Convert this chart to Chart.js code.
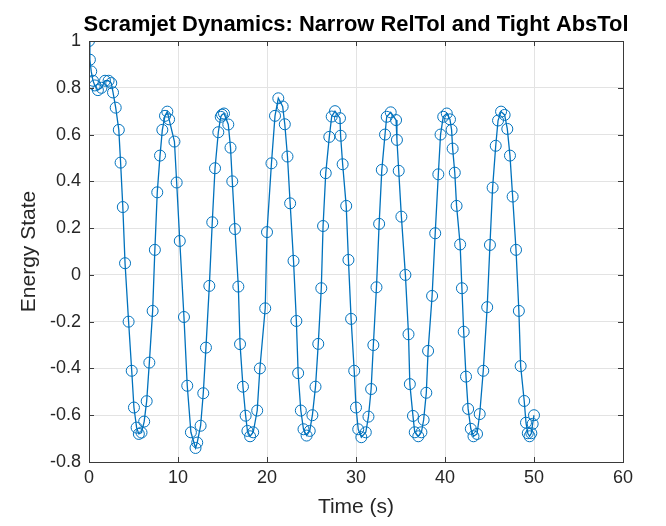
<!DOCTYPE html>
<html>
<head>
<meta charset="utf-8">
<script src="https://cdn.jsdelivr.net/npm/chart.js@4.4.1/dist/chart.umd.min.js"></script>
<style>
html,body{margin:0;padding:0;background:#fff;}
#wrap{width:666px;height:526px;position:relative;}
</style>
</head>
<body>
<div id="wrap"><canvas id="c" width="666" height="526"></canvas></div>
<script>
const chartTitle = "Scramjet Dynamics: Narrow RelTol and Tight AbsTol";
const xLabel = "Time (s)";
const yLabel = "Energy State";
const xTicks = [0, 10, 20, 30, 40, 50, 60];
const yTicks = [-0.8, -0.6, -0.4, -0.2, 0, 0.2, 0.4, 0.6, 0.8, 1];

const timeValues = [
  0, 0.1, 0.25, 0.45, 0.65, 1.0, 1.4, 1.8, 2.2, 2.5, 2.7, 3.0, 3.35, 3.55, 3.8,
  4.05, 4.45, 4.8, 5.05, 5.35, 5.6, 5.9, 6.2, 6.48, 6.78, 7.15, 7.4, 7.67, 7.98,
  8.24, 8.54, 8.8, 9.0, 9.6, 9.85, 10.2, 10.67, 11.04, 11.45, 11.97, 12.16, 12.54,
  12.84, 13.14, 13.52, 13.85, 14.16, 14.53, 14.8, 14.95, 15.17, 15.65, 15.9, 16.1,
  16.4, 16.78, 16.97, 17.3, 17.6, 17.8, 18.1, 18.45, 18.9, 19.2, 19.8, 20.0, 20.5,
  20.9, 21.27, 21.76, 22.0, 22.3, 22.6, 22.98, 23.3, 23.5, 23.8, 24.1, 24.45, 24.8,
  25.1, 25.45, 25.76, 26.1, 26.3, 26.6, 27.0, 27.27, 27.64, 28.2, 28.27, 28.5, 28.9,
  29.15, 29.45, 29.8, 30.0, 30.25, 30.6, 31.1, 31.4, 31.7, 31.95, 32.3, 32.6, 32.9,
  33.26, 33.45, 33.9, 34.5, 34.6, 34.8, 35.1, 35.55, 35.9, 36.05, 36.4, 36.6, 37.0,
  37.35, 37.6, 37.9, 38.1, 38.55, 38.9, 39.25, 39.5, 39.8, 40.2, 40.56, 40.74, 40.86,
  41.1, 41.3, 41.7, 41.9, 42.1, 42.36, 42.6, 42.9, 43.2, 43.6, 43.9, 44.3, 44.74,
  45.05, 45.35, 45.7, 45.96, 46.3, 46.7, 47.0, 47.3, 47.6, 47.98, 48.3, 48.5, 48.9,
  49.1, 49.3, 49.5, 49.7, 49.85, 50.0
];
const energyValues = [
  1.0, 0.92, 0.87, 0.83, 0.81, 0.79, 0.80, 0.83, 0.83, 0.82, 0.78, 0.715, 0.62, 0.48, 0.29,
  0.05, -0.20, -0.41, -0.567, -0.653, -0.68, -0.674, -0.627, -0.54, -0.375, -0.154, 0.107, 0.353, 0.51,
  0.62, 0.68, 0.698, 0.665, 0.57, 0.395, 0.145, -0.18, -0.474, -0.673, -0.74, -0.717, -0.645,
  -0.506, -0.311, -0.047, 0.225, 0.456, 0.61, 0.676, 0.685, 0.69, 0.643, 0.544, 0.40,
  0.196, -0.05, -0.296, -0.478, -0.602, -0.667, -0.69, -0.673, -0.58, -0.40, -0.143, 0.183, 0.477,
  0.68, 0.755, 0.72, 0.644, 0.506, 0.306, 0.06, -0.197, -0.42, -0.58, -0.66, -0.687, -0.667,
  -0.60, -0.478, -0.295, -0.057, 0.209, 0.435, 0.59, 0.677, 0.70, 0.67, 0.595, 0.473, 0.295,
  0.064, -0.188, -0.41, -0.567, -0.66, -0.694, -0.673, -0.606, -0.488, -0.30, -0.053, 0.218, 0.449,
  0.60, 0.676, 0.695, 0.662, 0.577, 0.445, 0.249, 0.0, -0.254, -0.467, -0.603, -0.673, -0.69,
  -0.673, -0.62, -0.504, -0.325, -0.09, 0.178, 0.43, 0.60, 0.676, 0.69, 0.665, 0.62, 0.54,
  0.437, 0.295, 0.13, -0.057, -0.243, -0.435, -0.573, -0.658, -0.69, -0.68, -0.595, -0.41, -0.138,
  0.128, 0.373, 0.552, 0.66, 0.698, 0.684, 0.624, 0.51, 0.335, 0.107, -0.154, -0.39, -0.539,
  -0.632, -0.677, -0.69, -0.677, -0.637, -0.60
];

const points = timeValues.map((t, i) => ({x: t, y: energyValues[i]}));

const AX = '#262626';
const FONT = "'Liberation Sans', Arial, Helvetica, sans-serif";

const matlabPlugin = {
  id: 'matlab',
  afterDraw(chart) {
    const {ctx, chartArea: a, scales} = chart;
    ctx.save();
    ctx.strokeStyle = '#3a3a3a';
    ctx.lineWidth = 1;
    ctx.strokeRect(Math.round(a.left) + 0.5, Math.round(a.top) + 0.5, Math.round(a.right - a.left), Math.round(a.bottom - a.top));
    ctx.beginPath();
    xTicks.forEach(v => {
      const x = Math.round(scales.x.getPixelForValue(v)) + 0.5;
      ctx.moveTo(x, a.bottom); ctx.lineTo(x, a.bottom - 5);
      ctx.moveTo(x, a.top); ctx.lineTo(x, a.top + 5);
    });
    yTicks.forEach(v => {
      const y = Math.round(scales.y.getPixelForValue(v)) + 0.5;
      ctx.moveTo(a.left, y); ctx.lineTo(a.left + 5, y);
      ctx.moveTo(a.right, y); ctx.lineTo(a.right - 5, y);
    });
    ctx.stroke();
    // title, sized to span the same width as the reference
    ctx.fillStyle = '#000';
    ctx.font = "bold 20px " + FONT;
    const w = ctx.measureText(chartTitle).width;
    const size = Math.min(24, 20 * 544 / w);
    ctx.font = "bold " + size.toFixed(1) + "px " + FONT;
    ctx.textAlign = 'center';
    ctx.textBaseline = 'alphabetic';
    ctx.fillText(chartTitle, (a.left + a.right) / 2, 31);
    ctx.restore();
  }
};

new Chart(document.getElementById('c'), {
  type: 'scatter',
  data: {
    datasets: [{
      data: points,
      showLine: true,
      borderColor: '#0072BD',
      borderWidth: 1.3,
      pointRadius: 5.5,
      pointHoverRadius: 5.5,
      pointBorderWidth: 1,
      pointBorderColor: '#0072BD',
      pointBackgroundColor: 'rgba(0,0,0,0)',
      tension: 0
    }]
  },
  options: {
    responsive: false,
    animation: false,
    devicePixelRatio: 1,
    layout: {padding: {top: 41, right: 43, left: 0, bottom: 0}},
    plugins: {legend: {display: false}, tooltip: {enabled: false}, title: {display: false}},
    scales: {
      x: {
        type: 'linear', min: 0, max: 60,
        afterBuildTicks: s => { s.ticks = xTicks.map(v => ({value: v})); },
        afterFit: s => { s.height = 64; },
        grid: {color: '#e3e3e3', drawTicks: false, lineWidth: 1},
        border: {display: false},
        ticks: {color: AX, font: {family: FONT, size: 18}, padding: 5, maxRotation: 0},
        title: {display: true, text: xLabel, color: AX, font: {family: FONT, size: 21}, padding: {top: 0, bottom: 6}}
      },
      y: {
        type: 'linear', min: -0.8, max: 1,
        afterBuildTicks: s => { s.ticks = yTicks.map(v => ({value: v})); },
        afterFit: s => { s.width = 89; },
        grid: {color: '#e3e3e3', drawTicks: false, lineWidth: 1},
        border: {display: false},
        ticks: {color: AX, font: {family: FONT, size: 18}, padding: 8,
          callback: v => String(Math.round(v * 10) / 10)},
        title: {display: true, text: yLabel, color: AX, font: {family: FONT, size: 21}, padding: {top: 17, bottom: 0}}
      }
    }
  },
  plugins: [matlabPlugin]
});
</script>
</body>
</html>
